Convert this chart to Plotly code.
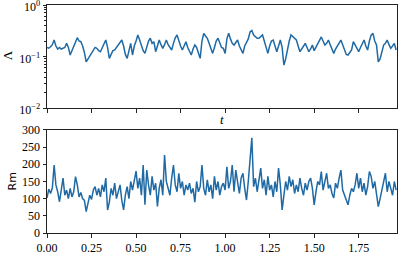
import plotly.graph_objects as go
from plotly.subplots import make_subplots

T_START = 0.0
T_STEP = 0.01

lam = [
    0.15, 0.145, 0.155, 0.17, 0.209, 0.16, 0.14, 0.15, 0.14, 0.145,
    0.15, 0.18, 0.15, 0.107, 0.13, 0.16, 0.2, 0.232, 0.2, 0.194,
    0.16, 0.12, 0.079, 0.09, 0.1, 0.115, 0.13, 0.15, 0.144, 0.13,
    0.124, 0.15, 0.18, 0.209, 0.15, 0.092, 0.11, 0.13, 0.134, 0.15,
    0.17, 0.19, 0.209, 0.16, 0.11, 0.092, 0.13, 0.18, 0.107, 0.16,
    0.2, 0.262, 0.209, 0.16, 0.13, 0.115, 0.16, 0.2, 0.226, 0.18,
    0.194, 0.124, 0.16, 0.209, 0.17, 0.144, 0.17, 0.209, 0.17, 0.15,
    0.134, 0.18, 0.23, 0.262, 0.2, 0.16, 0.134, 0.16, 0.194, 0.15,
    0.125, 0.107, 0.14, 0.167, 0.15, 0.11, 0.092, 0.2, 0.282, 0.25,
    0.226, 0.18, 0.14, 0.115, 0.15, 0.2, 0.226, 0.19, 0.15, 0.144,
    0.115, 0.22, 0.282, 0.22, 0.18, 0.167, 0.19, 0.209, 0.16, 0.13,
    0.115, 0.16, 0.194, 0.22, 0.3, 0.32, 0.262, 0.24, 0.226, 0.226,
    0.25, 0.262, 0.2, 0.15, 0.115, 0.16, 0.2, 0.209, 0.15, 0.124,
    0.16, 0.209, 0.15, 0.068, 0.09, 0.144, 0.2, 0.262, 0.24, 0.22,
    0.209, 0.16, 0.124, 0.14, 0.16, 0.18, 0.15, 0.124, 0.14, 0.167,
    0.13, 0.15, 0.18, 0.2, 0.24, 0.2, 0.167, 0.18, 0.209, 0.17,
    0.14, 0.115, 0.14, 0.16, 0.19, 0.209, 0.17, 0.13, 0.11, 0.107,
    0.12, 0.134, 0.194, 0.17, 0.14, 0.124, 0.15, 0.18, 0.209, 0.16,
    0.134, 0.2, 0.26, 0.282, 0.2, 0.167, 0.079, 0.09, 0.13, 0.167,
    0.18, 0.209, 0.17, 0.144, 0.16, 0.18, 0.134,
]

rm = [
    102, 128, 115, 131, 198, 140, 120, 91, 125, 160,
    110, 125, 100, 130, 105, 120, 164, 140, 105, 118,
    100, 95, 62, 90, 110, 98, 125, 135, 110, 130,
    105, 140, 120, 160, 67, 90, 130, 110, 145, 100,
    125, 140, 95, 67, 110, 135, 100, 150, 125, 155,
    180, 130, 160, 110, 198, 82, 183, 140, 110, 165,
    125, 145, 77, 130, 155, 110, 227, 150, 125, 110,
    160, 198, 140, 120, 174, 130, 150, 110, 140, 125,
    145, 115, 130, 90, 150, 120, 135, 198, 130, 110,
    155, 120, 140, 100, 165, 125, 150, 110, 135, 145,
    125, 193, 130, 150, 198, 120, 183, 140, 115, 160,
    174, 130, 96, 150, 204, 277, 135, 160, 120, 150,
    189, 130, 155, 110, 165, 125, 140, 105, 150, 120,
    189, 140, 67, 110, 150, 125, 165, 135, 155, 115,
    140, 120, 160, 130, 110, 145, 125, 150, 160, 130,
    82, 120, 150, 140, 179, 125, 150, 174, 130, 140,
    115, 102, 145, 130, 160, 183, 125, 110, 100, 82,
    110, 130, 120, 140, 174, 130, 160, 120, 145, 110,
    135, 179, 165, 130, 150, 115, 77, 100, 125, 140,
    174, 120, 150, 130, 110, 150, 125,
]

t = [T_START + i * T_STEP for i in range(len(rm))]

x_ticks = [0.0, 0.25, 0.5, 0.75, 1.0, 1.25, 1.5, 1.75]
x_tick_labels = ["0.00", "0.25", "0.50", "0.75", "1.00", "1.25", "1.50", "1.75"]
lam_ticks = [0.01, 0.1, 1]
lam_tick_labels = ["10<sup>−2</sup>", "10<sup>−1</sup>", "10<sup>0</sup>"]
lam_minor = [k * 0.01 for k in range(2, 10)] + [k * 0.1 for k in range(2, 10)]
rm_ticks = [0, 50, 100, 150, 200, 250, 300]

LINE = "#1f6aa5"
AX = "#222222"
FONT = "Liberation Serif"

fig = make_subplots(rows=2, cols=1, vertical_spacing=0.096)
fig.add_trace(go.Scatter(x=t, y=lam, mode="lines", line=dict(color=LINE, width=1.5)), row=1, col=1)
fig.add_trace(go.Scatter(x=t, y=rm, mode="lines", line=dict(color=LINE, width=1.5)), row=2, col=1)

common_x = dict(range=[0, 1.965], tickvals=x_ticks, ticks="outside", ticklen=3.5, tickcolor=AX,
                showline=True, linecolor=AX, linewidth=1, mirror=True, showgrid=False,
                zeroline=False, automargin=False)
fig.update_xaxes(**common_x, showticklabels=False, row=1, col=1)
fig.update_xaxes(**common_x, ticktext=x_tick_labels, row=2, col=1)

fig.update_yaxes(type="log", range=[-2, 0], tickvals=lam_ticks, ticktext=lam_tick_labels,
                 ticks="outside", ticklen=3.5, tickcolor=AX, ticklabelshift=2,
                 ticklabeloverflow="allow",
                 minor=dict(tickvals=lam_minor, ticks="outside", ticklen=2, tickcolor=AX),
                 showline=True, linecolor=AX, linewidth=1, mirror=True, showgrid=False,
                 zeroline=False, automargin=False, row=1, col=1)
fig.update_yaxes(range=[0, 300], tickvals=rm_ticks, ticks="outside", ticklen=3.5, tickcolor=AX,
                 showline=True, linecolor=AX, linewidth=1, mirror=True, showgrid=False,
                 zeroline=False, automargin=False, row=2, col=1)

fig.add_annotation(text="Λ", xref="paper", yref="paper", x=-0.114, y=0.78, showarrow=False,
                   xanchor="center", yanchor="middle",
                   textangle=-90, font=dict(family=FONT, size=13, color="black"))
fig.add_annotation(text="Rm", xref="paper", yref="paper", x=-0.1, y=0.226, showarrow=False,
                   xanchor="center", yanchor="middle",
                   textangle=-90, font=dict(family="DejaVu Sans", size=11, color="black"))
fig.add_annotation(text="<i>t</i>", xref="paper", yref="paper", x=0.5, y=0.5, showarrow=False,
                   xanchor="center", yanchor="middle",
                   font=dict(family=FONT, size=13, color="black"))

fig.update_layout(width=399, height=266, margin=dict(l=47, r=2, t=5, b=33),
                  plot_bgcolor="white", paper_bgcolor="white", showlegend=False,
                  font=dict(family=FONT, size=12, color="black"))
fig.write_html("out.html", config={"displayModeBar": False},
               post_script="document.body.style.margin='0px';")
